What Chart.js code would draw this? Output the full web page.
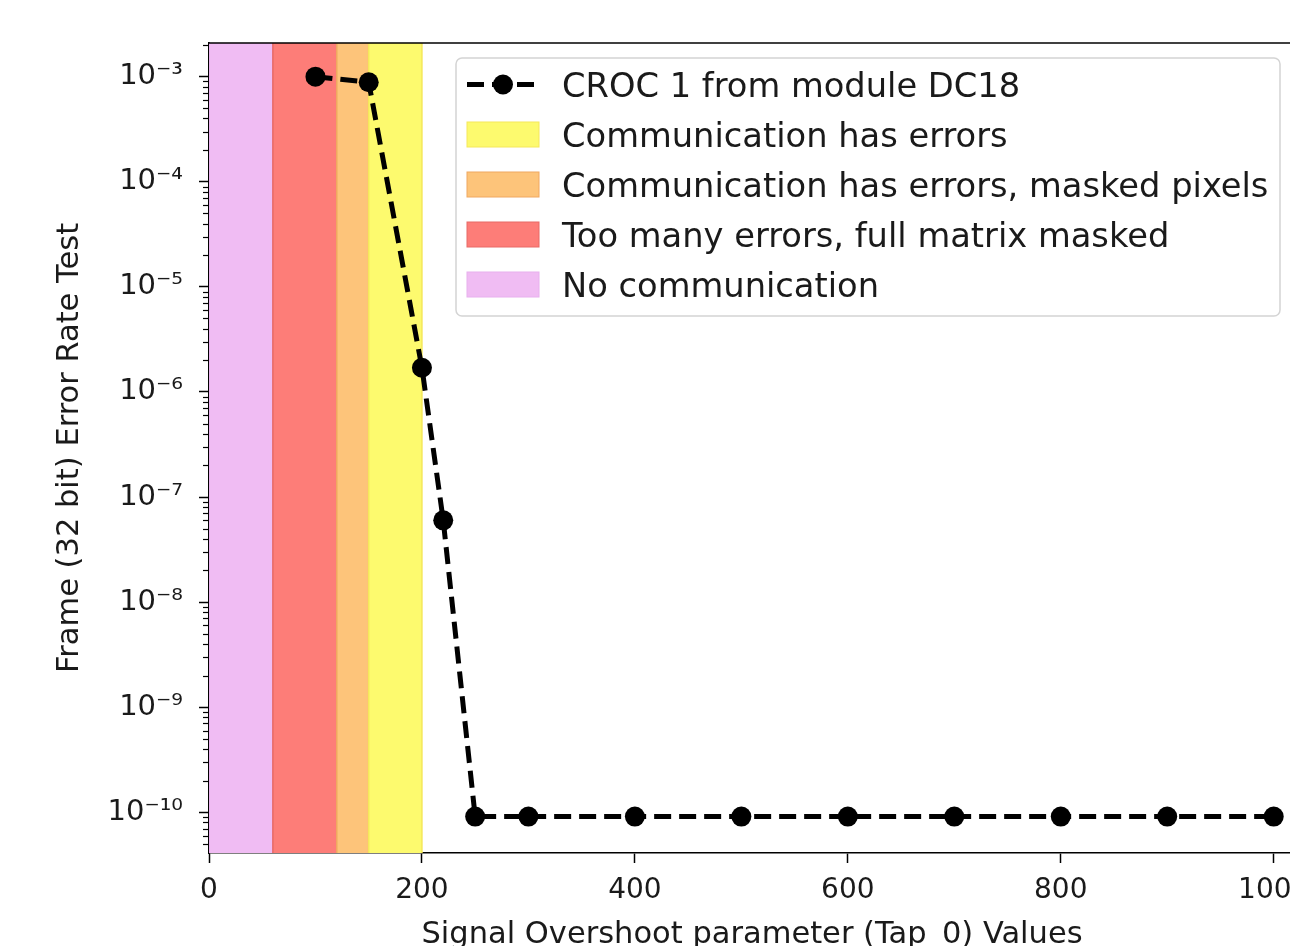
<!DOCTYPE html>
<html lang="en">
<head>
    <meta charset="UTF-8">
    <title>Frame Error Rate vs Tap 0</title>
    <script src="https://cdn.jsdelivr.net/npm/chart.js"></script>
    <style>
        body { margin: 0; padding: 0; overflow: hidden; background: #fff; }
        #chart-container { position: relative; width: 1310px; height: 960px; }
    </style>
</head>
<body>

<div id="chart-container">
    <canvas id="berChart"></canvas>
</div>

<script>
    // Data
    const tapValues = [100, 150, 200, 220, 250, 300, 400, 500, 600, 700, 800, 900, 1000];
    const errorRates = [1.0e-3, 8.85e-4, 1.7e-6, 6.0e-8, 9.1e-11, 9.1e-11, 9.1e-11, 9.1e-11, 9.1e-11, 9.1e-11, 9.1e-11, 9.1e-11, 9.1e-11];
    const seriesLabel = 'CROC 1 from module DC18';

    // shaded regions (legend order)
    const bandLabels = ['Communication has errors', 'Communication has errors, masked pixels', 'Too many errors, full matrix masked', 'No communication'];
    const bandStart = [150, 120, 60, 0];
    const bandEnd = [200, 150, 120, 60];
    const bandColors = ['#fdfa6e', '#fdc47a', '#fd7d78', '#f0bcf3'];
    const bandEdges = ['#f5e85a', '#f0a860', '#e86a66', '#e8b0ee'];

    const yTickValues = [1e-10, 1e-9, 1e-8, 1e-7, 1e-6, 1e-5, 1e-4, 1e-3];
    const xTickValues = [0, 200, 400, 600, 800, 1000];

    const FONT = "'DejaVu Sans', sans-serif";
    const sup = { '-': '\u207B', '0': '\u2070', '1': '\u00B9', '2': '\u00B2', '3': '\u00B3', '4': '\u2074', '5': '\u2075', '6': '\u2076', '7': '\u2077', '8': '\u2078', '9': '\u2079' };
    function powLabel(v) {
        const e = String(Math.round(Math.log10(v)));
        return '10' + e.split('').map(c => sup[c]).join('');
    }

    // background bands, top frame line, minor ticks, legend
    const decorations = {
        id: 'decorations',
        beforeDatasetsDraw(chart) {
            const { ctx, chartArea: a, scales: { x } } = chart;
            ctx.save();
            ctx.beginPath();
            ctx.rect(a.left, a.top, a.right - a.left, a.bottom - a.top);
            ctx.clip();
            for (let i = bandLabels.length - 1; i >= 0; i--) {
                const x0 = x.getPixelForValue(bandStart[i]);
                const x1 = x.getPixelForValue(bandEnd[i]);
                ctx.fillStyle = bandColors[i];
                ctx.fillRect(x0, a.top, x1 - x0, a.bottom - a.top);
                ctx.strokeStyle = bandEdges[i];
                ctx.lineWidth = 1.5;
                ctx.strokeRect(x0, a.top - 2, x1 - x0, a.bottom - a.top + 4);
            }
            ctx.restore();
        },
        afterDraw(chart) {
            const { ctx, chartArea: a, scales: { y } } = chart;
            ctx.save();
            // top frame
            ctx.strokeStyle = '#000';
            ctx.lineWidth = 1.6;
            ctx.beginPath();
            ctx.moveTo(a.left, a.top);
            ctx.lineTo(a.right, a.top);
            ctx.stroke();
            // minor log ticks
            ctx.lineWidth = 1.2;
            for (let e = -11; e <= -3; e++) {
                for (let k = 2; k <= 9; k++) {
                    const v = k * Math.pow(10, e);
                    if (v < y.min || v > y.max) continue;
                    const py = Math.round(y.getPixelForValue(v)) + 0.5;
                    ctx.beginPath();
                    ctx.moveTo(a.left - 6, py);
                    ctx.lineTo(a.left, py);
                    ctx.stroke();
                }
            }

            // legend
            const lx = 456, ly = 58, lw = 824, lh = 258;
            ctx.fillStyle = 'rgba(255,255,255,0.85)';
            ctx.strokeStyle = '#d4d4d4';
            ctx.lineWidth = 1.5;
            ctx.beginPath();
            ctx.roundRect(lx, ly, lw, lh, 6);
            ctx.fill();
            ctx.stroke();

            ctx.font = '33.7px ' + FONT;
            ctx.fillStyle = '#1a1a1a';
            ctx.textBaseline = 'alphabetic';
            ctx.textAlign = 'left';
            const rowY = i => 84.5 + 50 * i;
            // series entry
            const ds = chart.data.datasets[0];
            ctx.strokeStyle = '#000';
            ctx.lineWidth = ds.borderWidth;
            ctx.setLineDash(ds.borderDash);
            ctx.beginPath();
            ctx.moveTo(467, rowY(0));
            ctx.lineTo(539, rowY(0));
            ctx.stroke();
            ctx.setLineDash([]);
            ctx.beginPath();
            ctx.arc(503, rowY(0), ds.pointRadius, 0, Math.PI * 2);
            ctx.fillStyle = '#000';
            ctx.fill();
            ctx.fillStyle = '#1a1a1a';
            ctx.fillText(ds.label, 562, rowY(0) + 12.5);
            bandLabels.forEach((lab, i) => {
                const cy = rowY(i + 1);
                ctx.fillStyle = bandColors[i];
                ctx.fillRect(467, cy - 12.5, 72, 25);
                ctx.strokeStyle = bandEdges[i];
                ctx.lineWidth = 1;
                ctx.strokeRect(467, cy - 12.5, 72, 25);
                ctx.fillStyle = '#1a1a1a';
                ctx.fillText(lab, 562, cy + 12.5);
            });
            ctx.restore();
        }
    };

    const ctx = document.getElementById('berChart').getContext('2d');
    const berChart = new Chart(ctx, {
        type: 'line',
        data: {
            datasets: [{
                label: seriesLabel,
                data: tapValues.map((t, i) => ({ x: t, y: errorRates[i] })),
                borderColor: '#000',
                backgroundColor: '#000',
                borderWidth: 5,
                borderDash: [17, 8],
                pointRadius: 10,
                pointHoverRadius: 10,
                pointBackgroundColor: '#000',
                pointBorderWidth: 0,
                tension: 0,
                fill: false
            }]
        },
        options: {
            responsive: true,
            maintainAspectRatio: false,
            animation: false,
            layout: { padding: { top: 43, right: 15, left: 0, bottom: 0 } },
            plugins: {
                legend: { display: false },
                tooltip: { enabled: false }
            },
            scales: {
                x: {
                    type: 'linear',
                    min: 0,
                    max: 1020,
                    afterBuildTicks: s => { s.ticks = xTickValues.map(v => ({ value: v })); },
                    afterFit: s => { s.height = 107; s.paddingLeft = 0; s.paddingRight = 0; },
                    ticks: { font: { family: FONT, size: 28 }, color: '#1a1a1a', padding: 11, maxRotation: 0, callback: v => String(v) },
                    grid: { drawOnChartArea: false, color: '#000', tickLength: 10, tickWidth: 1.5 },
                    border: { color: '#000', width: 1.6 },
                    title: {
                        display: true,
                        text: 'Signal Overshoot parameter (Tap_0) Values',
                        font: { family: FONT, size: 30.5 },
                        color: '#1a1a1a',
                        padding: { top: 0, bottom: 7 }
                    }
                },
                y: {
                    type: 'logarithmic',
                    min: 4.1e-11,
                    max: 2.09e-3,
                    afterBuildTicks: s => { s.ticks = yTickValues.map(v => ({ value: v })); },
                    afterFit: s => { s.width = 209; s.paddingTop = 0; s.paddingBottom = 0; },
                    ticks: {
                        font: { family: FONT, size: 29 },
                        color: '#1a1a1a',
                        padding: 16,
                        callback: v => powLabel(v)
                    },
                    grid: { drawOnChartArea: false, color: '#000', tickLength: 10, tickWidth: 1.5 },
                    border: { color: '#000', width: 1.6 },
                    title: {
                        display: true,
                        text: 'Frame (32 bit) Error Rate Test',
                        font: { family: FONT, size: 30.5 },
                        color: '#1a1a1a',
                        padding: { top: 52, bottom: 0 }
                    }
                }
            }
        },
        plugins: [decorations]
    });
</script>

</body>
</html>
